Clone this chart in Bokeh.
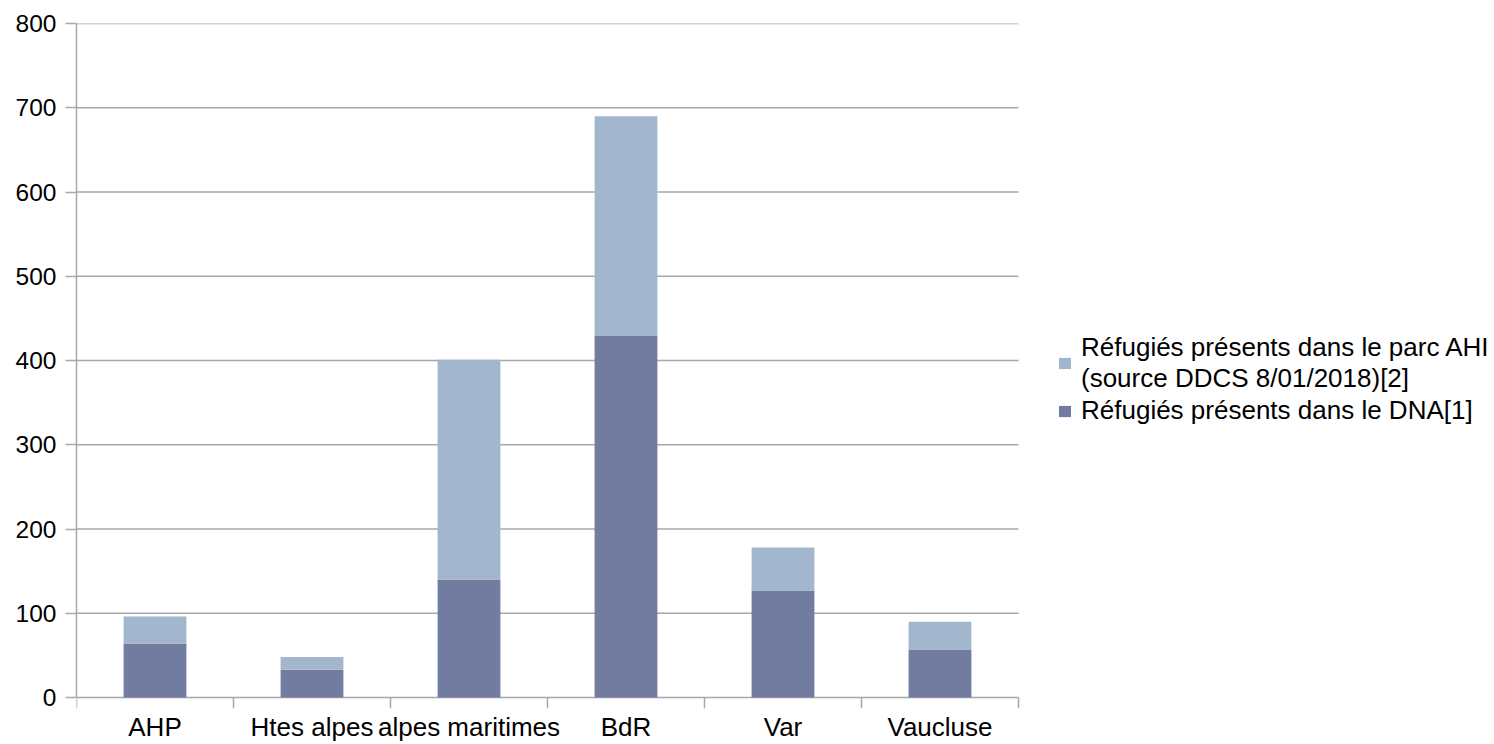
from bokeh.plotting import figure
from bokeh.models import (Range1d, LinearAxis, FixedTicker, Legend, LegendItem, ColumnDataSource)
from bokeh.embed import file_html
from bokeh.resources import INLINE

# Refugees per département (PACA)
departements = ["AHP", "Htes alpes", "alpes maritimes", "BdR", "Var", "Vaucluse"]
refugies_dna = [64, 33, 140, 429, 127, 57]
refugies_ahi = [32, 15, 261, 261, 51, 33]
y_ticks = [0, 100, 200, 300, 400, 500, 600, 700, 800]

label_dna = "Réfugiés présents dans le DNA[1]"
label_ahi = "Réfugiés présents dans le parc AHI\n(source DDCS 8/01/2018)[2]"

col_dna = "#727ba0"
col_ahi = "#a2b7cd"
grid_col = "#a8a8a8"
font = "Liberation Sans"
num_size = "24.5px"
txt_size = "26px"

# layout constants (pixels)
W, H = 1494, 744
left, top, bottom = 76, 23, 36
chart_w = 942          # width of the bar area; the rest on the right holds the legend
tick_px = 11           # length of the category separator ticks

n = len(departements)
centers = [i + 0.5 for i in range(n)]
edges = list(range(n + 1))
y_max = y_ticks[-1]
frame_h = H - top - bottom
units_per_px = y_max / (frame_h - tick_px)
tick_units = tick_px * units_per_px

src = ColumnDataSource(dict(x=centers, dna=refugies_dna, ahi=refugies_ahi))

p = figure(width=W, height=H, output_backend="svg", toolbar_location=None,
           x_range=Range1d(0, n * (W - left) / chart_w),
           y_range=Range1d(-tick_units, y_max),
           x_axis_location=None, y_axis_location=None,
           min_border_left=left, min_border_right=0, min_border_top=top, min_border_bottom=0)
p.outline_line_color = None
p.background_fill_color = "white"
p.border_fill_color = "white"
p.grid.visible = False

# horizontal grid lines, limited to the bar area
p.segment(x0=0, x1=n, y0=y_ticks, y1=y_ticks, line_color=grid_col, line_width=1.5)
# separator ticks under the category axis
p.segment(x0=edges, x1=edges, y0=0, y1=-tick_units, line_color=grid_col, line_width=1.5)

renderers = p.vbar_stack(["dna", "ahi"], x="x", width=0.4, color=[col_dna, col_ahi],
                         line_color=None, source=src)

# vertical axis
yax = LinearAxis(ticker=FixedTicker(ticks=y_ticks), bounds=(0, y_max))
yax.axis_line_color = grid_col
yax.axis_line_width = 1.5
yax.major_tick_line_color = grid_col
yax.major_tick_line_width = 1.5
yax.major_tick_out = 11
yax.major_tick_in = 0
yax.minor_tick_line_color = None
yax.major_label_text_font = font
yax.major_label_text_font_size = num_size
yax.major_label_text_color = "black"
yax.major_label_standoff = 9
p.add_layout(yax, "left")

# département names under each bar
cax = LinearAxis(ticker=FixedTicker(ticks=centers),
                 major_label_overrides={c: d for c, d in zip(centers, departements)})
cax.axis_line_color = None
cax.major_tick_line_color = None
cax.minor_tick_line_color = None
cax.major_label_text_font = font
cax.major_label_text_font_size = txt_size
cax.major_label_text_color = "black"
cax.major_label_standoff = -3
p.add_layout(cax, "below")

# legend to the right of the bars (screen pixels from the frame's bottom-left)
legend = Legend(items=[LegendItem(label=label_ahi, renderers=[renderers[1]]),
                       LegendItem(label=label_dna, renderers=[renderers[0]])],
                location=(981, 282))
legend.label_text_font = font
legend.label_text_font_size = txt_size
legend.label_text_color = "black"
legend.label_standoff = 9
legend.glyph_width = 15
legend.glyph_height = 14
legend.spacing = 1
legend.padding = 0
legend.margin = 0
legend.border_line_color = None
legend.background_fill_alpha = 0
p.add_layout(legend)

open("out.html", "w").write(file_html(p, INLINE))
